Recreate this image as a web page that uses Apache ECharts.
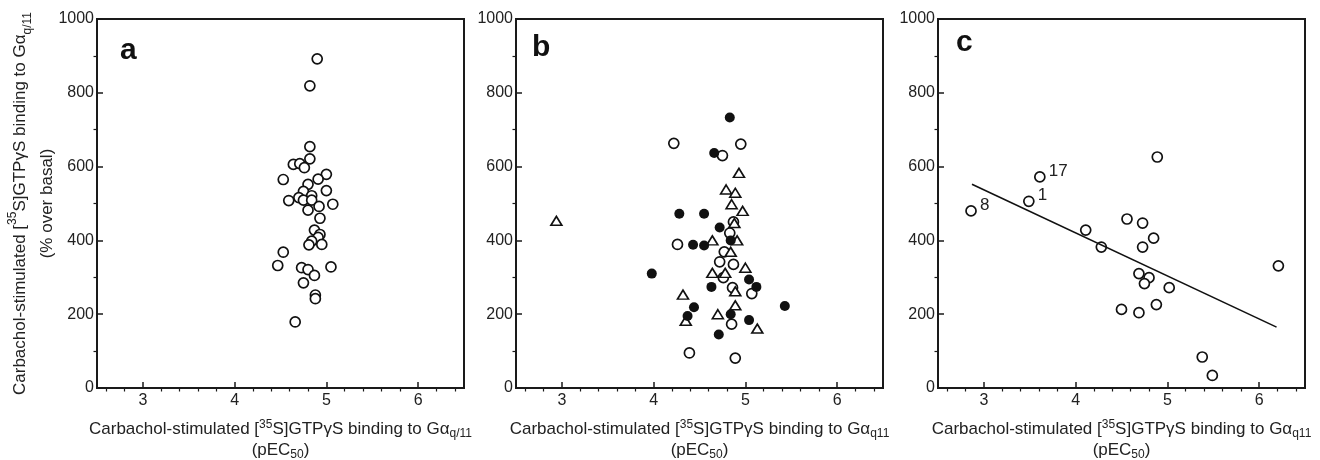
<!DOCTYPE html>
<html>
<head>
<meta charset="utf-8">
<script src="https://cdn.jsdelivr.net/npm/echarts@6/dist/echarts.min.js"></script>
<style>
  html, body { margin: 0; background: #fff; }
  #chart { width: 1320px; height: 460px; }
</style>
</head>
<body>
<div id="chart"></div>
<script>
// panel a - open circles [pEC50, % over basal]
const aOpen = [
  [4.90, 892], [4.82, 819], [4.82, 654], [4.82, 621], [4.64, 606], [4.71, 608],
  [4.76, 597], [4.53, 565], [5.00, 579], [4.91, 566], [4.80, 552], [4.75, 533],
  [4.84, 521], [4.70, 516], [4.59, 508], [4.75, 509], [4.84, 509], [5.00, 535],
  [5.07, 498], [4.92, 492], [4.80, 482], [4.93, 460], [4.87, 428], [4.93, 416],
  [4.91, 408], [4.84, 398], [4.81, 388], [4.95, 389], [4.53, 368], [4.47, 332],
  [4.73, 326], [4.80, 321], [4.87, 305], [5.05, 328], [4.75, 285], [4.88, 252],
  [4.88, 242], [4.66, 179]
];

// panel b - three groups
const bOpen = [
  [4.22, 663], [4.95, 661], [4.75, 630], [4.26, 389], [4.87, 450], [4.83, 420],
  [4.77, 369], [4.72, 342], [4.87, 335], [4.76, 299], [4.86, 272], [5.07, 256],
  [4.85, 173], [4.39, 95], [4.89, 81]
];
const bFilled = [
  [4.83, 733], [4.66, 637], [4.28, 472], [4.55, 472], [4.72, 435], [4.43, 388],
  [4.55, 386], [3.98, 310], [5.04, 294], [5.12, 274], [4.63, 274], [4.44, 219],
  [4.37, 195], [4.84, 200], [5.04, 184], [4.71, 145], [5.43, 222], [4.84, 400]
];
const bTriangle = [
  [2.94, 453], [4.93, 583], [4.79, 538], [4.89, 529], [4.85, 498], [4.97, 480],
  [4.88, 447], [4.64, 400], [4.91, 400], [4.84, 369], [5.00, 326], [4.64, 312],
  [4.78, 312], [4.32, 253], [4.89, 262], [4.89, 224], [4.70, 200], [4.35, 182],
  [5.13, 161]
];

// panel c - open circles, labelled compounds and regression line
const cOpen = [
  [4.89, 626], [4.11, 428], [4.28, 382], [4.56, 458], [4.73, 447], [4.85, 406],
  [4.73, 382], [4.69, 310], [4.80, 299], [4.75, 283], [5.02, 272], [4.50, 213],
  [4.69, 204], [4.88, 226], [5.38, 84], [5.49, 34], [6.21, 331]
];
const cLabelled = [[2.86, 480, '8'], [3.49, 506, '1'], [3.61, 572, '17']];
const cFit = [[2.87, 552], [6.19, 165]];

const xTicks = [3, 4, 5, 6];
const yTicks = [0, 200, 400, 600, 800, 1000];

const FONT = '"Liberation Sans", Arial, Helvetica, sans-serif';
const INK = '#1a1a1a';
const TXT = '#222';

const rich = {
  sup: { fontSize: 12, lineHeight: 12, verticalAlign: 'top', fontFamily: FONT, color: TXT },
  sub: { fontSize: 12, lineHeight: 12, verticalAlign: 'bottom', fontFamily: FONT, color: TXT }
};

const grids = [
  { left: 97, top: 19, width: 367, height: 369 },
  { left: 516, top: 19, width: 367, height: 369 },
  { left: 938, top: 19, width: 367, height: 369 }
].map(g => Object.assign(g, {
  show: true, borderColor: INK, borderWidth: 2, backgroundColor: 'transparent',
  outerBoundsMode: 'none', containLabel: false
}));

function xAxisFor(gi, sub) {
  return {
    gridIndex: gi, type: 'value', min: 2.5, max: 6.5, splitNumber: 4,
    axisLine: { onZero: false, lineStyle: { color: INK, width: 2 } },
    axisTick: { inside: true, length: 6, lineStyle: { color: INK, width: 1.5 } },
    minorTick: { show: true, splitNumber: 5, length: -3.5, lineStyle: { color: INK, width: 1.2 } },
    splitLine: { show: false },
    axisLabel: {
      margin: 5, fontSize: 16, color: TXT, fontFamily: FONT,
      formatter: v => (xTicks.indexOf(Math.round(v * 10) / 10) >= 0 ? String(v) : '')
    },
    name: 'Carbachol-stimulated [{sup|35}S]GTPγS binding to Gα{sub|' + sub + '}\n(pEC{sub|50})',
    nameLocation: 'middle', nameGap: 31, nameMoveOverlap: false,
    nameTextStyle: { fontSize: 17, lineHeight: 21, color: TXT, fontFamily: FONT, rich: rich }
  };
}

function yAxisFor(gi, withName) {
  const ax = {
    gridIndex: gi, type: 'value', min: 0, max: 1000, interval: 200,
    axisLine: { onZero: false, lineStyle: { color: INK, width: 2 } },
    axisTick: { inside: true, length: 6, lineStyle: { color: INK, width: 1.5 } },
    minorTick: { show: true, splitNumber: 2, length: -3.5, lineStyle: { color: INK, width: 1.2 } },
    splitLine: { show: false },
    axisLabel: {
      margin: 3, fontSize: 16, color: TXT, fontFamily: FONT,
      formatter: v => (yTicks.indexOf(v) >= 0 ? String(v) : '')
    }
  };
  if (withName) {
    ax.name = 'Carbachol-stimulated [{sup|35}S]GTPγS binding to Gα{sub|q/11}\n(% over basal)';
    ax.nameLocation = 'middle';
    ax.nameGap = 36;
    ax.nameRotate = 90;
    ax.nameMoveOverlap = false;
    ax.nameTextStyle = { fontSize: 17, lineHeight: 27, color: TXT, fontFamily: FONT, rich: rich };
  }
  return ax;
}

const openStyle = { color: '#fff', borderColor: '#111', borderWidth: 1.7, opacity: 1 };

const option = {
  animation: false,
  backgroundColor: '#fff',
  grid: grids,
  xAxis: [xAxisFor(0, 'q/11'), xAxisFor(1, 'q11'), xAxisFor(2, 'q11')],
  yAxis: [yAxisFor(0, true), yAxisFor(1, false), yAxisFor(2, false)],
  graphic: [
    { type: 'text', x: 120, y: 51, style: { text: 'a', font: 'bold 30px ' + FONT, fill: '#111', verticalAlign: 'middle' } },
    { type: 'text', x: 532, y: 48, style: { text: 'b', font: 'bold 30px ' + FONT, fill: '#111', verticalAlign: 'middle' } },
    { type: 'text', x: 956, y: 43, style: { text: 'c', font: 'bold 30px ' + FONT, fill: '#111', verticalAlign: 'middle' } }
  ],
  series: [
    { name: 'a', type: 'scatter', xAxisIndex: 0, yAxisIndex: 0, data: aOpen,
      symbol: 'circle', symbolSize: 10, itemStyle: openStyle },
    { name: 'b open', type: 'scatter', xAxisIndex: 1, yAxisIndex: 1, data: bOpen,
      symbol: 'circle', symbolSize: 10, itemStyle: openStyle },
    { name: 'b triangle', type: 'scatter', xAxisIndex: 1, yAxisIndex: 1, data: bTriangle,
      symbol: 'triangle', symbolSize: [11, 9], itemStyle: { color: '#fff', borderColor: '#111', borderWidth: 1.6, opacity: 1 } },
    { name: 'b filled', type: 'scatter', xAxisIndex: 1, yAxisIndex: 1, data: bFilled,
      symbol: 'circle', symbolSize: 10, itemStyle: { color: '#111', opacity: 1 } },
    { name: 'c fit', type: 'line', xAxisIndex: 2, yAxisIndex: 2, data: cFit,
      symbol: 'none', lineStyle: { color: '#111', width: 1.6 } },
    { name: 'c', type: 'scatter', xAxisIndex: 2, yAxisIndex: 2, data: cOpen,
      symbol: 'circle', symbolSize: 10, itemStyle: openStyle },
    { name: 'c labelled', type: 'scatter', xAxisIndex: 2, yAxisIndex: 2, data: cLabelled,
      symbol: 'circle', symbolSize: 10, itemStyle: openStyle,
      label: { show: true, position: 'right', distance: 3, offset: [0, -6], opacity: 1,
        formatter: p => p.value[2], fontSize: 17, color: TXT, fontFamily: FONT } }
  ]
};

const chart = echarts.init(document.getElementById('chart'), null, { renderer: 'canvas' });
chart.setOption(option);
</script>
</body>
</html>
